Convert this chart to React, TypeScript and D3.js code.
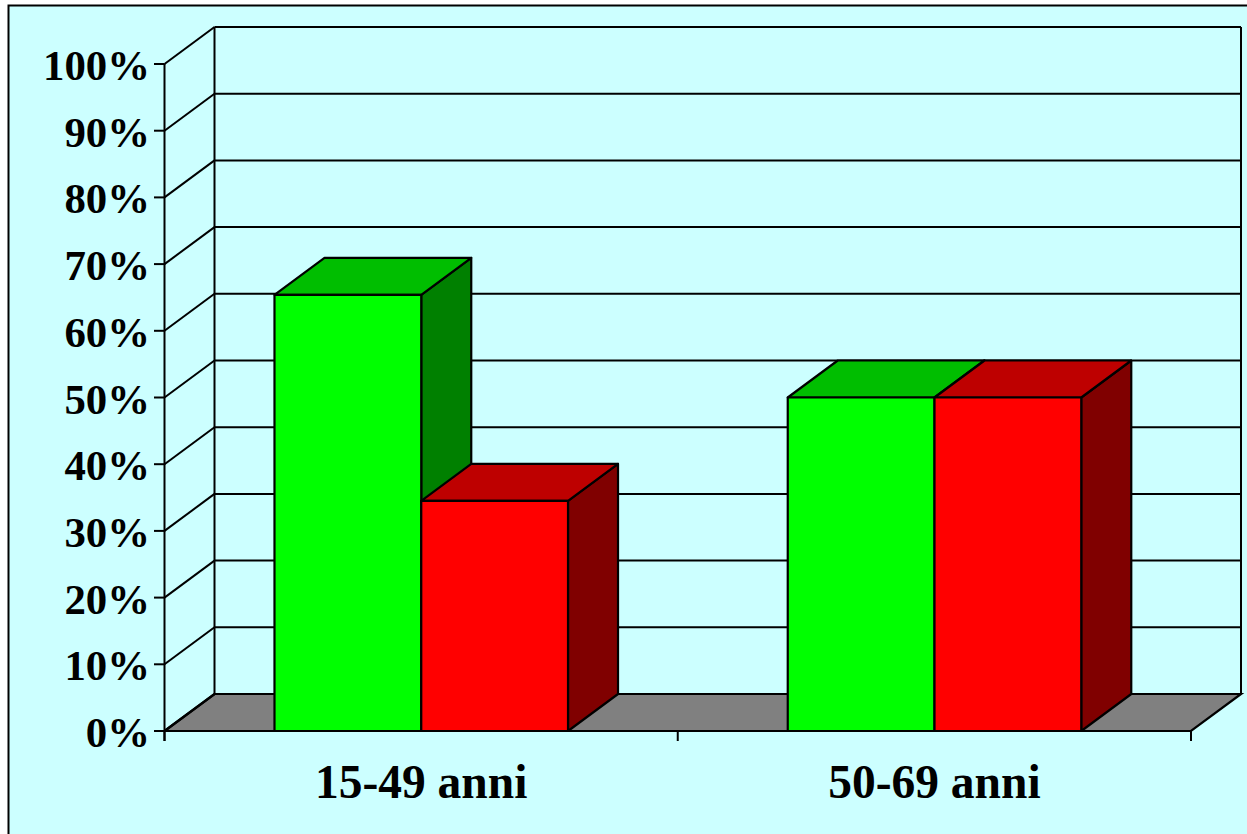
import React from "react";
import * as d3 from "d3";

const categories = ["15-49 anni", "50-69 anni"];
const seriesNames = ["A", "B"];
const seriesA = [65.4, 50];
const seriesB = [34.5, 50];
const seriesColors = [
  { front: "#00FF00", top: "#00BE00", side: "#008000" },
  { front: "#FF0000", top: "#BE0000", side: "#800000" },
];
const yTicks = [0, 10, 20, 30, 40, 50, 60, 70, 80, 90, 100];

const W = 1247, H = 834;
const x0 = 164.5, x1 = 1191, y0 = 731, y1 = 64;
const depthX = 50, depthY = 37;

const y = d3.scaleLinear().domain([0, 100]).range([y0, y1]);
const xBand = d3.scaleBand<string>().domain(categories).range([x0, x1]);
const xInner = d3.scaleBand<string>().domain(seriesNames).range([xBand.bandwidth() * 0.2143, xBand.bandwidth() * 0.7862]);
const pts = (p: number[][]) => p.map((q) => q.join(",")).join(" ");
const font = "'Liberation Serif', 'Times New Roman', serif";

export default function App() {
  const values = [seriesA, seriesB];
  return (
    <svg width={W} height={H} viewBox={`0 0 ${W} ${H}`} style={{ position: "fixed", left: 0, top: 0, display: "block" }}>
      <rect x={0} y={0} width={W} height={H} fill="#FFFFFF" />
      <rect x={8.5} y={5.5} width={W} height={H} fill="#CCFFFF" stroke="#000" strokeWidth={2} />
      {/* floor */}
      <polygon
        points={pts([[x0, y0], [x0 + depthX, y0 - depthY], [x1 + depthX, y0 - depthY], [x1, y0]])}
        fill="#808080" stroke="#000" strokeWidth={2.2}
      />
      {/* back wall and side wall */}
      <line x1={x0 + depthX} x2={x0 + depthX} y1={y1 - depthY} y2={y0 - depthY} stroke="#000" strokeWidth={2} />
      <line x1={x1 + depthX} x2={x1 + depthX} y1={y1 - depthY} y2={y0 - depthY} stroke="#000" strokeWidth={2} />
      {yTicks.map((t) => (
        <g key={t}>
          <line x1={x0 + depthX} x2={x1 + depthX} y1={y(t) - depthY} y2={y(t) - depthY} stroke="#000" strokeWidth={t === 0 ? 2.2 : 2} />
          <line x1={x0} x2={x0 + depthX} y1={y(t)} y2={y(t) - depthY} stroke="#000" strokeWidth={t === 0 ? 2.2 : 2} />
          <line x1={x0 - 10.5} x2={x0} y1={y(t)} y2={y(t)} stroke="#000" strokeWidth={2} />
          <text x={150} y={y(t) + 16} textAnchor="end" fontFamily={font} fontWeight="bold" fontSize={42.8} fill="#000">
            {t}%
          </text>
        </g>
      ))}
      {/* bars */}
      {categories.map((c, i) =>
        seriesNames.map((s, j) => {
          const l = xBand(c)! + xInner(s)!;
          const r = l + xInner.bandwidth();
          const v = y(values[j][i]);
          const col = seriesColors[j];
          return (
            <g key={c + s} stroke="#000" strokeWidth={2.2} strokeLinejoin="round">
              <polygon points={pts([[r, y0], [r + depthX, y0 - depthY], [r + depthX, v - depthY], [r, v]])} fill={col.side} />
              <polygon points={pts([[l, v], [l + depthX, v - depthY], [r + depthX, v - depthY], [r, v]])} fill={col.top} />
              <rect x={l} y={v} width={r - l} height={y0 - v} fill={col.front} />
            </g>
          );
        })
      )}
      {/* axes */}
      <line x1={x0} x2={x0} y1={y1} y2={741} stroke="#000" strokeWidth={2} />
      <line x1={x0} x2={x1} y1={y0} y2={y0} stroke="#000" strokeWidth={2.2} />
      {[...categories.map((c) => xBand(c)!), x1].map((t) => (
        <line key={t} x1={t} x2={t} y1={y0} y2={741} stroke="#000" strokeWidth={2} />
      ))}
      {categories.map((c) => (
        <text key={c} x={xBand(c)! + xBand.bandwidth() / 2} y={798} textAnchor="middle" fontFamily={font} fontWeight="bold" fontSize={47.5} fill="#000">
          {c}
        </text>
      ))}
    </svg>
  );
}
